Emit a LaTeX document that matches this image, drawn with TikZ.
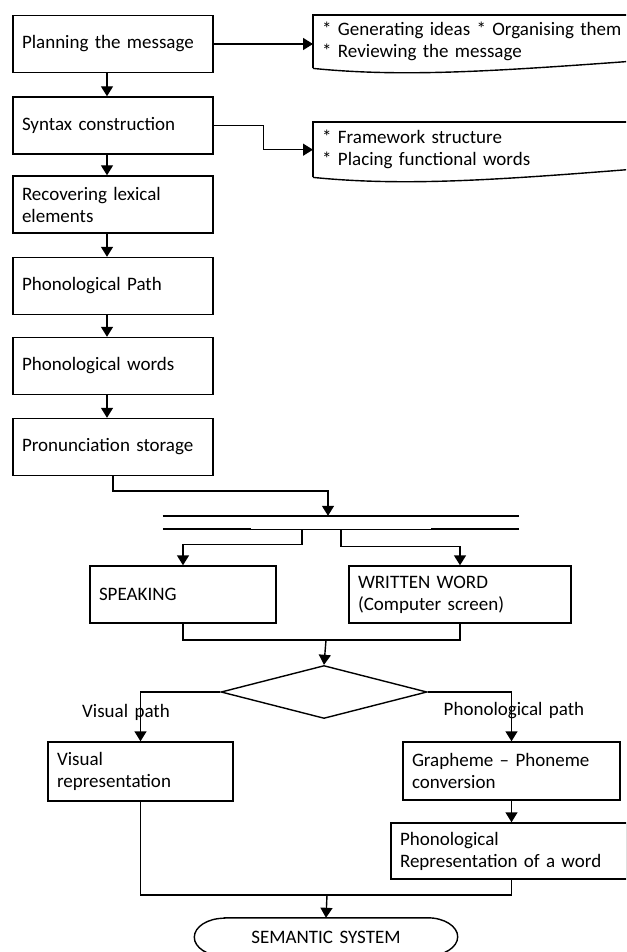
\documentclass[tikz,border=0pt]{standalone}
\usepackage{fontspec}
\setmainfont{Carlito}[WordSpace=1.5]
\usepackage{tikz}
\usetikzlibrary{
arrows.meta,
positioning,
shapes.geometric,
calc
}

\begin{document}
\begin{tikzpicture}[
  x=1pt, y=-1pt,
  txt/.style={font=\fontsize{19}{22}\selectfont},
  box/.style={txt, draw, line width=1.4pt, minimum height=57pt, text width=182pt, inner xsep=9pt, align=left},
  note/.style={txt, anchor=north west, text width=330pt, inner xsep=9pt, align=left},
  line/.style={line width=1.4pt},
  >={Triangle[length=10pt, width=12pt]}
]
  \useasboundingbox (0,0) rectangle (626,952);
  \clip (0,0) rectangle (626,952);

  % Production chain
  \node[box] (plan)  at (113,44)    {Planning the message};
  \node[box] (syn)   at (113,125.5) {Syntax construction};
  \node[box] (rec)   at (113,204.5) {Recovering lexical\\elements};
  \node[box] (ppath) at (113,286)   {Phonological Path};
  \node[box] (pword) at (113,366)   {Phonological words};
  \node[box] (pron)  at (113,447)   {Pronunciation storage};

  \draw[->, line] ([xshift=-6pt]plan.south) -- ([xshift=-6pt]syn.north);
  \draw[->, line] ([xshift=-6pt]syn.south) -- ([xshift=-6pt]rec.north);
  \draw[->, line] ([xshift=-6pt]rec.south) -- ([xshift=-6pt]ppath.north);
  \draw[->, line] ([xshift=-6pt]ppath.south) -- ([xshift=-6pt]pword.north);
  \draw[->, line] ([xshift=-6pt]pword.south) -- ([xshift=-6pt]pron.north);

  % Side notes
  \node[note, minimum height=53pt] (gen) at (313,15)
    {* Generating ideas * Organising them\\{*} Reviewing the message};
  \node[note, minimum height=55pt] (frame) at (313,122)
    {* Framework structure\\{*} Placing functional words};

  \foreach \n/\r in {gen/-8, frame/-9} {
    \draw[line] (\n.south west) -- (\n.north west) -- (\n.north east);
    \draw[line] (\n.south west) .. controls ($(\n.south west)+(90,9)$) and ($(\n.south west)+(180,3)$) .. ($(\n.south west)+(330,\r)$);
  }

  \draw[->, line] (plan.east) -- (plan.east -| gen.west);
  \draw[->, line] (syn.east) -- ++(50,0) |- (frame.west);

  % Double bar
  \node[minimum width=356pt, minimum height=13pt, inner sep=0pt] (bus) at (341,522.5) {};
  \draw[line] (bus.north west) -- (bus.north east);
  \draw[line] (bus.south west) -- (bus.south east);
  \draw[line width=2.4pt] (bus.north west) -- ++(88,0) (bus.north east) -- ++(-88,0);
  \draw[line width=2.4pt] (bus.south west) -- ++(88,0) (bus.south east) -- ++(-88,0);

  \coordinate (jn) at (328,491);
  \draw[->, line] (pron.south) |- (jn) -- (jn |- bus.north);

  % Output channels
  \node[box, text width=168pt] (speak)   at (183,594.5) {SPEAKING};
  \node[box, text width=204pt] (written) at (460,594.5) {WRITTEN WORD\\(Computer screen)};

  \draw[->, line] ([xshift=-39pt]bus.south) -- ++(0,15) -| (speak.north);
  \draw[->, line] (bus.south) -- ++(0,17) -| (written.north);

  \coordinate (mrg) at (326,640);
  \draw[line] (speak.south) |- (mrg) -| (written.south);

  % Decision
  \node[diamond, draw, line, minimum width=206pt, minimum height=53pt, inner sep=0pt] (dia) at (324,692) {};
  \draw[->, line] (mrg) -- (dia.north);

  \node[box, text width=167pt, minimum height=59pt] (vis)   at (140.5,771.5) {Visual\\representation};
  \node[box, text width=199pt, minimum height=58pt] (graph) at (511.5,771)   {Grapheme -- Phoneme\\conversion};
  \node[box, text width=218pt, minimum height=56pt] (prep)  at (509,851)     {Phonological\\Representation of a word};

  \draw[->, line] (dia.west) -| (vis.north);
  \draw[->, line] (dia.east) -| (graph.north);
  \node[txt] (vislbl)   at (126,712) {Visual path};
  \node[txt] (phonlbl)  at (514,711) {Phonological path};

  \draw[->, line] (graph.south) -- (graph.south |- prep.north);

  % Semantic system
  \node[txt, minimum width=263pt, minimum height=38pt, inner sep=0pt] (sem) at (326,937) {SEMANTIC SYSTEM};
  \draw[line] ([xshift=30pt]sem.north west) -- ([xshift=-30pt]sem.north east)
    arc[start angle=90, end angle=-90, x radius=30pt, y radius=19pt]
    -- ([xshift=30pt]sem.south west)
    arc[start angle=270, end angle=90, x radius=30pt, y radius=19pt] -- cycle;

  \coordinate (mrg2) at (327,895);
  \draw[line] (vis.south) |- (mrg2) -| (graph.south |- prep.south);
  \draw[->, line] (mrg2) -- (sem.north);

\end{tikzpicture}
\end{document}
